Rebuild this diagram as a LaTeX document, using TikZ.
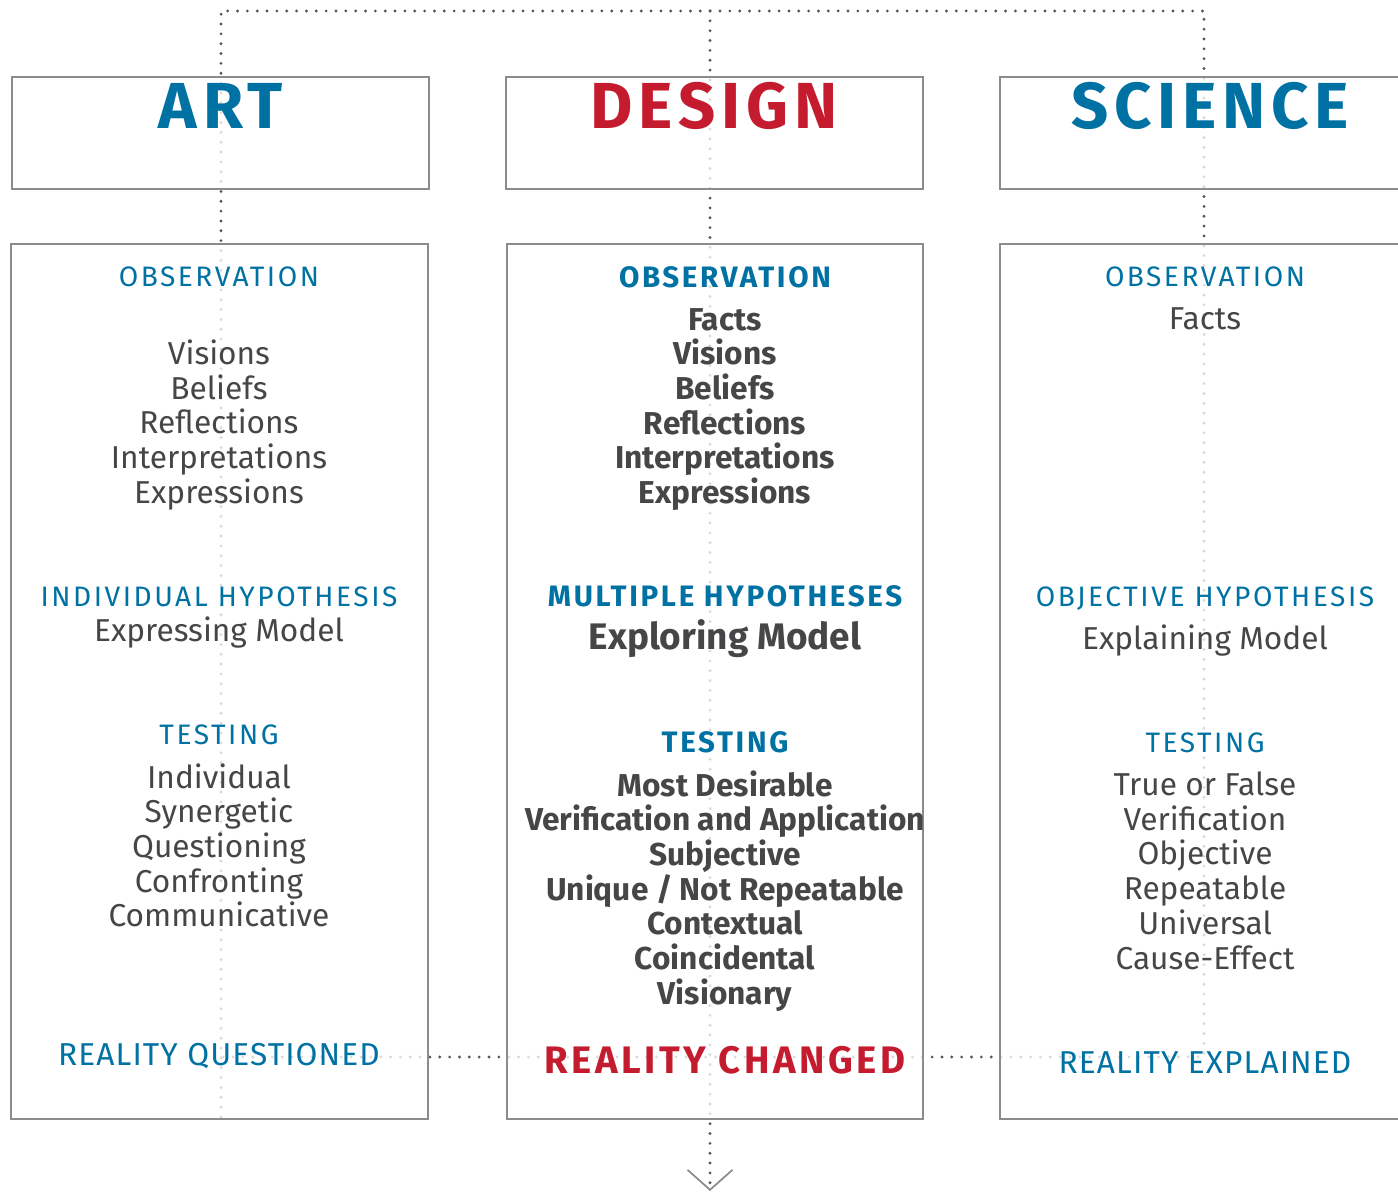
\documentclass[tikz,border=0pt]{standalone}
\usepackage{fontspec}
\setmainfont{Fira Sans}
\newfontfamily\trackedfont[LetterSpace=9]{Fira Sans}
\newfontfamily\outcomefont[LetterSpace=3.5]{Fira Sans}
\usetikzlibrary{positioning}
\usetikzlibrary{arrows.meta}
\usepackage{xcolor}
\definecolor{artblue}{RGB}{0,113,163}
\definecolor{designred}{RGB}{196,28,46}
\definecolor{textgray}{RGB}{70,70,72}
\definecolor{framegray}{RGB}{140,140,140}
\definecolor{dotgray}{RGB}{85,85,90}

\tikzset{
  frame/.style={draw=framegray, line width=0.6pt, fill=white, fill opacity=0.78, anchor=north west, inner sep=0pt},
  guide/.style={draw=dotgray, line width=0.9pt, line cap=round, dash pattern=on 0pt off 2.8pt},
  plaintext/.style={inner sep=0pt, text depth=0pt},
  colname/.style={plaintext, font=\trackedfont\bfseries\fontsize{18.5}{18.5}\selectfont, text height=12.7pt},
  stagehead/.style={plaintext, artblue, font=\trackedfont\fontsize{8}{8}\selectfont, text height=5.5pt},
  strongstagehead/.style={stagehead, font=\trackedfont\bfseries\fontsize{8.4}{8.4}\selectfont},
  stageitem/.style={plaintext, textgray, font=\fontsize{9}{9}\selectfont, text height=6.2pt},
  strongitem/.style={stageitem, font=\bfseries\fontsize{9}{9}\selectfont},
  outcome/.style={plaintext, artblue, font=\outcomefont\fontsize{9}{9}\selectfont, text height=6.2pt}
}

\begin{document}
\begin{tikzpicture}[x=0.01cm,y=-0.01cm]
\useasboundingbox (0,0) rectangle (1398,1192);
\clip (0,0) rectangle (1398,1192);

% dotted guide lines
\coordinate (art-top) at (221,11);
\coordinate (design-top) at (710,11);
\coordinate (sci-top) at (1204,11);
\coordinate (art-end) at (221,1117);
\coordinate (design-end) at (710,1191);
\coordinate (art-meet) at (221,1057);
\coordinate (sci-meet) at (1204,1057);
\draw[guide] (art-end) -- (art-top) -- (sci-top) -- (sci-meet) -- (art-meet);
\draw[guide, -{Straight Barb[length=2mm, width=4.5mm, line width=0.5pt, color=framegray]}] (design-top) -- (design-end);

% frames
\node[frame, minimum width=4.17cm, minimum height=1.12cm] (art-head) at (11,76) {};
\node[frame, minimum width=4.17cm, minimum height=1.12cm] (design-head) at (505,76) {};
\node[frame, minimum width=4.17cm, minimum height=1.12cm] (sci-head) at (999,76) {};
\node[frame, minimum width=4.17cm, minimum height=8.74cm] (art-body) at (10,243) {};
\node[frame, minimum width=4.16cm, minimum height=8.74cm] (design-body) at (506,243) {};
\node[frame, minimum width=4.17cm, minimum height=8.74cm] (sci-body) at (999,243) {};

% art
\node[colname, artblue] (art-name) at (221,106) {ART};
\node[stagehead] (art-obs) at (219,277) {OBSERVATION};
\node[stageitem] (art-obs1) at (219,354) {Visions};
\node[stageitem] (art-obs2) at (219,389) {Beliefs};
\node[stageitem] (art-obs3) at (219,423) {Reflections};
\node[stageitem] (art-obs4) at (219,458) {Interpretations};
\node[stageitem] (art-obs5) at (219,493) {Expressions};
\node[stagehead] (art-hyp) at (219,597) {INDIVIDUAL HYPOTHESIS};
\node[stageitem] (art-model) at (219,631) {Expressing Model};
\node[stagehead] (art-test) at (219,735) {TESTING};
\node[stageitem] (art-test1) at (219,778) {Individual};
\node[stageitem] (art-test2) at (219,812) {Synergetic};
\node[stageitem] (art-test3) at (219,847) {Questioning};
\node[stageitem] (art-test4) at (219,882) {Confronting};
\node[stageitem] (art-test5) at (219,916) {Communicative};
\node[outcome] (art-result) at (219,1055) {REALITY QUESTIONED};

% design
\node[colname, designred] (design-name) at (714,106) {DESIGN};
\node[strongstagehead] (design-obs) at (725,278) {OBSERVATION};
\node[strongitem] (design-obs1) at (725,320) {Facts};
\node[strongitem] (design-obs2) at (725,354) {Visions};
\node[strongitem] (design-obs3) at (725,389) {Beliefs};
\node[strongitem] (design-obs4) at (725,424) {Reflections};
\node[strongitem] (design-obs5) at (725,458) {Interpretations};
\node[strongitem] (design-obs6) at (725,493) {Expressions};
\node[strongstagehead] (design-hyp) at (725,597) {MULTIPLE HYPOTHESES};
\node[strongitem, font=\bfseries\fontsize{10.5}{10.5}\selectfont, text height=7.2pt] (design-model) at (725,637) {Exploring Model};
\node[strongstagehead] (design-test) at (725,743) {TESTING};
\node[strongitem] (design-test1) at (725,786) {Most Desirable};
\node[strongitem] (design-test2) at (725,820) {Verification and Application};
\node[strongitem] (design-test3) at (725,855) {Subjective};
\node[strongitem] (design-test4) at (725,890) {Unique / Not Repeatable};
\node[strongitem] (design-test5) at (725,924) {Contextual};
\node[strongitem] (design-test6) at (725,959) {Coincidental};
\node[strongitem] (design-test7) at (725,994) {Visionary};
\node[outcome, designred, font=\trackedfont\bfseries\fontsize{10.9}{10.9}\selectfont, text height=7.5pt] (design-result) at (725,1060) {REALITY CHANGED};

% science
\node[colname, artblue] (sci-name) at (1210,106) {SCIENCE};
\node[stagehead] (sci-obs) at (1205,277) {OBSERVATION};
\node[stageitem] (sci-obs1) at (1205,319) {Facts};
\node[stagehead] (sci-hyp) at (1205,597) {OBJECTIVE HYPOTHESIS};
\node[stageitem] (sci-model) at (1205,639) {Explaining Model};
\node[stagehead] (sci-test) at (1205,743) {TESTING};
\node[stageitem] (sci-test1) at (1205,785) {True or False};
\node[stageitem] (sci-test2) at (1205,820) {Verification};
\node[stageitem] (sci-test3) at (1205,854) {Objective};
\node[stageitem] (sci-test4) at (1205,889) {Repeatable};
\node[stageitem] (sci-test5) at (1205,924) {Universal};
\node[stageitem] (sci-test6) at (1205,959) {Cause-Effect};
\node[outcome] (sci-result) at (1205,1063) {REALITY EXPLAINED};

\end{tikzpicture}
\end{document}
